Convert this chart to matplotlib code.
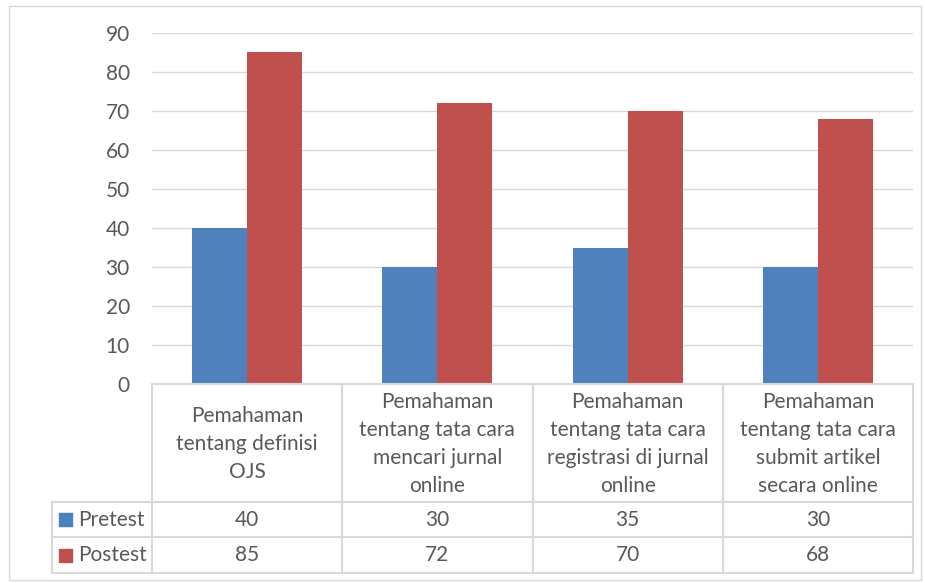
import matplotlib.pyplot as plt
from matplotlib.patches import Rectangle
from matplotlib.lines import Line2D

categories = [
    "Pemahaman\ntentang definisi\nOJS",
    "Pemahaman\ntentang tata cara\nmencari jurnal\nonline",
    "Pemahaman\ntentang tata cara\nregistrasi di jurnal\nonline",
    "Pemahaman\ntentang tata cara\nsubmit artikel\nsecara online",
]
series_names = ["Pretest", "Postest"]
pretest = [40, 30, 35, 30]
postest = [85, 72, 70, 68]
colors = ["#4F81BD", "#C0504D"]
text_color = "#595959"
grid_color = "#D9D9D9"

plt.rcParams["font.family"] = ["Lato", "DejaVu Sans"]

W, H = 925, 583
fig = plt.figure(figsize=(W / 100, H / 100), dpi=100)

def fx(px):
    return px / W

def fy(py):
    return 1 - py / H

# plot area in pixels
left, right, top, bottom = 152, 913, 33, 384
ax = fig.add_axes([fx(left), fy(bottom), fx(right) - fx(left), fy(top) - fy(bottom)])

n = len(categories)
x = list(range(n))
bw = 55 / 190
ax.bar([i - bw / 2 for i in x], pretest, width=bw, color=colors[0], zorder=3)
ax.bar([i + bw / 2 for i in x], postest, width=bw, color=colors[1], zorder=3)
ax.set_xlim(-0.5, n - 0.5)
ax.set_ylim(0, 90)
ax.set_yticks(range(0, 91, 10))
ax.yaxis.grid(True, color=grid_color, linewidth=1)
ax.set_axisbelow(True)
ax.set_xticks([])
for s in ax.spines.values():
    s.set_visible(False)
ax.tick_params(axis="y", length=0, pad=16, labelsize=15, labelcolor=text_color)

# outer chart border
fig.patches.append(Rectangle((fx(9), fy(580)), fx(921) - fx(9), fy(6) - fy(580),
                             transform=fig.transFigure, fill=False,
                             edgecolor=grid_color, linewidth=1))

# data table
tab_left = 52
col_w = (right - left) / n
cols = [left + i * col_w for i in range(n + 1)]
row_y = [384, 502, 537, 573]

def hline(y, x0, x1):
    fig.add_artist(Line2D([fx(x0), fx(x1)], [fy(y), fy(y)], color=grid_color, linewidth=1.5))

def vline(x0, y0, y1):
    fig.add_artist(Line2D([fx(x0), fx(x0)], [fy(y0), fy(y1)], color=grid_color, linewidth=1.5))

hline(row_y[0], left, right)
for y in row_y[1:]:
    hline(y, tab_left, right)
vline(tab_left, row_y[1], row_y[3])
for c in cols:
    vline(c, row_y[0], row_y[3])

for i, cat in enumerate(categories):
    cx = (cols[i] + cols[i + 1]) / 2
    fig.text(fx(cx), fy((row_y[0] + row_y[1]) / 2 + 1), cat, ha="center", va="center",
             fontsize=15, color=text_color, linespacing=1.5)

for r, (name, vals) in enumerate(zip(series_names, [pretest, postest])):
    cy = (row_y[r + 1] + row_y[r + 2]) / 2
    fig.patches.append(Rectangle((fx(59), fy(cy + 6.5)), fx(13), fx(13) * W / H,
                                 transform=fig.transFigure, color=colors[r]))
    fig.text(fx(78), fy(cy), name, ha="left", va="center", fontsize=15, color=text_color)
    for i, v in enumerate(vals):
        cx = (cols[i] + cols[i + 1]) / 2
        fig.text(fx(cx), fy(cy), str(v), ha="center", va="center",
                 fontsize=15, color=text_color)

fig.savefig("out.png", dpi=100)
